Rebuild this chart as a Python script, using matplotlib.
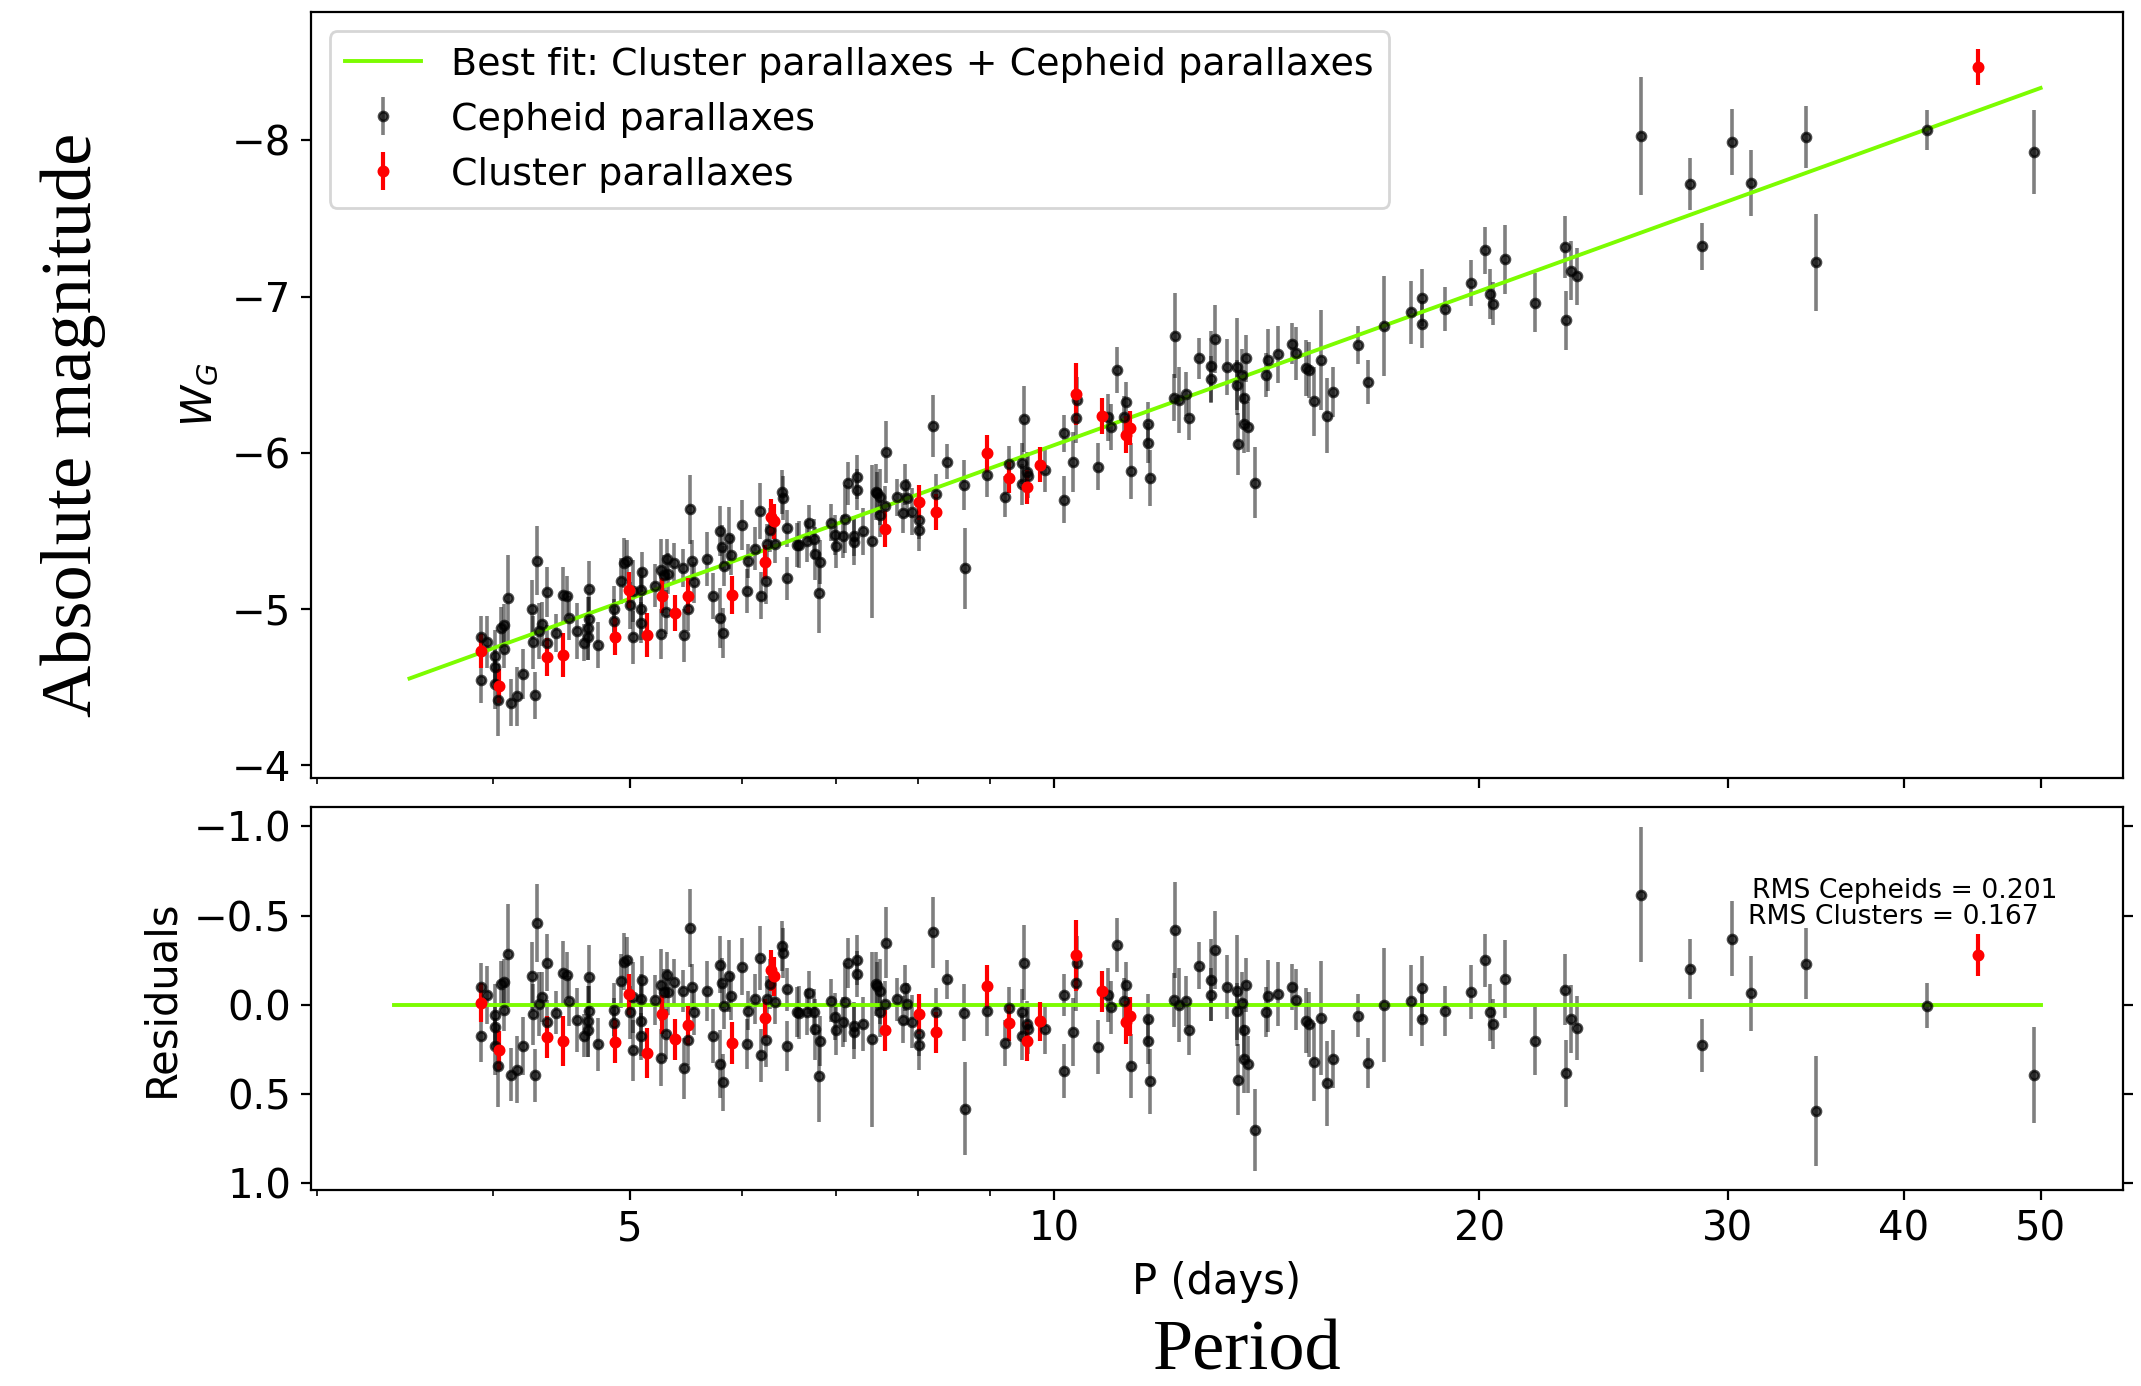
import matplotlib
matplotlib.use('Agg')
import matplotlib.pyplot as plt
import numpy as np
from matplotlib.ticker import FixedLocator, NullFormatter

# best fit PL relation (as drawn), W = zp + slope*(logP - 1)
fit_zp = -6.05
fit_slope = -3.27
fit_pmin_top, fit_pmin_res, fit_pmax = 3.49, 3.4, 50.0

# Cepheid parallaxes: period (d), residual from fit (mag), error (mag)
ceph_period = [3.92, 3.92, 3.96, 4.01, 4.01, 4.01, 4.03, 4.05, 4.07, 4.07,
               4.10, 4.12, 4.16, 4.20, 4.26, 4.27, 4.30, 4.28, 4.31, 4.33,
               4.37, 4.37, 4.43, 4.48, 4.51, 4.53, 4.59, 4.64, 4.67, 4.67,
               4.68, 4.68, 4.75, 4.87, 4.87, 4.93, 4.95, 4.98, 5.00, 5.03,
               5.03, 5.09, 5.09, 5.10, 5.09,
               5.21, 5.26, 5.26, 5.29, 5.30, 5.31, 5.32, 5.37, 5.45, 5.46,
               5.50, 5.52, 5.53, 5.55, 5.67, 5.73, 5.79, 5.79, 5.81, 5.82,
               5.83, 5.88, 5.90, 6.00, 6.05, 6.06, 6.13, 6.18, 6.19, 6.24,
               6.25, 6.29, 6.34, 6.41, 6.42, 6.46, 6.46, 6.57, 6.59, 6.68,
               6.70, 6.75, 6.76, 6.81, 6.82,
               6.94, 6.99, 7.00, 7.08, 7.10, 7.14, 7.21, 7.21, 7.25, 7.25,
               7.31, 7.43, 7.47, 7.48, 7.52, 7.52, 7.58, 7.59, 7.73, 7.81,
               7.83, 7.86, 7.92, 8.02, 8.02, 8.20, 8.24, 8.39, 8.62, 8.64,
               8.95, 9.22,
               9.29, 9.49, 9.49, 9.51, 9.56, 9.58, 9.84, 10.15, 10.16, 10.31,
               10.36, 10.37, 10.73, 10.91, 10.96, 11.07, 11.23, 11.21, 11.33, 11.65,
               11.64, 11.68, 12.15, 12.18, 12.25, 12.40, 12.46, 12.67, 12.90, 12.92,
               13.00, 13.25, 13.47, 13.47, 13.49, 13.58, 13.62, 13.63, 13.67, 13.71,
               13.88,
               14.13, 14.17, 14.41, 14.74, 14.82, 15.08, 15.15, 15.27, 15.45, 15.59,
               15.75, 16.41, 16.68, 17.12, 17.90, 18.23, 18.22, 18.93, 19.74, 20.18,
               20.37, 20.44, 20.87, 21.90, 22.99, 23.03, 23.23, 23.46,
               26.05, 28.21, 28.77, 30.22, 31.16, 34.12, 34.64, 41.56, 49.47]
ceph_resid = [-0.100, 0.176, -0.054, 0.056, 0.126, 0.234, 0.342, -0.115, -0.126, 0.030,
              -0.284, 0.392, 0.364, 0.232, -0.160, 0.054, -0.457, 0.397, -0.004, -0.041,
              -0.236, 0.095, 0.046, -0.178, -0.165, -0.019, 0.085, 0.175, 0.093, 0.145,
              -0.156, 0.037, 0.223, 0.028, 0.104, -0.134, -0.241, -0.249, 0.043, -0.041,
              0.256, -0.032, 0.089, -0.141, 0.178,
              -0.026, 0.297, -0.111, -0.069, 0.167, -0.167, -0.072, -0.128, -0.076, 0.358,
              0.201, -0.431, -0.100, 0.043, -0.076, 0.176, -0.223, 0.331, -0.119, 0.436,
              0.009, -0.160, -0.046, -0.212, 0.219, 0.033, -0.032, -0.260, 0.284, 0.201,
              -0.032, -0.115, -0.013, -0.329, -0.290, -0.087, 0.234, 0.043, 0.045, 0.043,
              -0.067, 0.043, 0.139, 0.401, 0.204,
              -0.022, 0.067, 0.141, 0.095, -0.013, -0.232, 0.117, 0.154, -0.251, -0.171,
              0.108, 0.195, -0.115, -0.102, -0.074, 0.043, -0.004, -0.347, -0.030, 0.084,
              -0.093, -0.004, 0.095, 0.167, 0.228, -0.405, 0.039, -0.143, 0.045, 0.583,
              0.035, 0.215,
              0.020, 0.043, 0.178, -0.236, 0.111, 0.139, 0.139, -0.054, 0.373, 0.152,
              -0.124, -0.234, 0.238, -0.054, 0.015, -0.336, -0.110, -0.019, 0.344, 0.082,
              0.202, 0.431, -0.026, -0.420, 0.002, -0.019, 0.141, -0.219, -0.141, -0.056,
              -0.306, -0.100, -0.078, 0.037, 0.420, -0.011, 0.141, 0.303, -0.111, 0.334,
              0.706,
              0.043, -0.048, -0.061, -0.098, -0.028, 0.089, 0.111, 0.321, 0.076, 0.442,
              0.305, 0.063, 0.325, 0.004, -0.022, -0.091, 0.080, 0.035, -0.071, -0.249,
              0.043, 0.110, -0.143, 0.202, -0.085, 0.386, 0.080, 0.132,
              -0.618, -0.199, 0.228, -0.371, -0.063, -0.230, 0.596, 0.006, 0.396]
ceph_err = [0.134, 0.143, 0.165, 0.17, 0.13, 0.16, 0.23, 0.13, 0.13, 0.12,
            0.28, 0.15, 0.19, 0.16, 0.19, 0.17, 0.22, 0.15, 0.18, 0.14,
            0.16, 0.12, 0.12, 0.18, 0.13, 0.14, 0.18, 0.12, 0.20, 0.15,
            0.18, 0.14, 0.15, 0.15, 0.14, 0.15, 0.16, 0.13, 0.15, 0.20,
            0.17, 0.14, 0.20, 0.13, 0.13,
            0.14, 0.16, 0.20, 0.13, 0.14, 0.13, 0.13, 0.13, 0.12, 0.17,
            0.14, 0.22, 0.13, 0.13, 0.17, 0.15, 0.16, 0.19, 0.14, 0.16,
            0.13, 0.20, 0.13, 0.16, 0.14, 0.11, 0.14, 0.18, 0.15, 0.15,
            0.13, 0.14, 0.12, 0.14, 0.14, 0.12, 0.14, 0.14, 0.15, 0.13,
            0.12, 0.13, 0.17, 0.26, 0.14,
            0.12, 0.13, 0.14, 0.14, 0.22, 0.14, 0.13, 0.15, 0.14, 0.13,
            0.15, 0.49, 0.18, 0.14, 0.18, 0.14, 0.13, 0.20, 0.12, 0.13,
            0.13, 0.12, 0.15, 0.12, 0.14, 0.20, 0.13, 0.11, 0.16, 0.26,
            0.14, 0.13,
            0.12, 0.13, 0.13, 0.21, 0.13, 0.14, 0.14, 0.12, 0.15, 0.19,
            0.16, 0.15, 0.15, 0.15, 0.15, 0.15, 0.13, 0.13, 0.18, 0.14,
            0.13, 0.18, 0.15, 0.27, 0.21, 0.14, 0.14, 0.13, 0.23, 0.15,
            0.22, 0.18, 0.31, 0.16, 0.20, 0.17, 0.17, 0.19, 0.15, 0.16,
            0.23,
            0.14, 0.20, 0.18, 0.13, 0.17, 0.18, 0.18, 0.22, 0.32, 0.24,
            0.16, 0.12, 0.14, 0.32, 0.20, 0.18, 0.15, 0.14, 0.15, 0.15,
            0.16, 0.14, 0.22, 0.19, 0.20, 0.19, 0.19, 0.18,
            0.38, 0.167, 0.15, 0.21, 0.21, 0.20, 0.31, 0.127, 0.27]

# Cluster parallaxes
clus_period = [3.92, 4.04, 4.37, 4.48, 4.88, 4.99, 5.14, 5.27, 5.38, 5.50,
               5.91, 6.23, 6.30, 6.33, 7.58, 8.01, 8.24, 8.95, 9.29, 9.56,
               9.77, 10.36, 10.81, 11.23, 11.31, 45.12]
clus_resid = [-0.011, 0.256, 0.182, 0.204, 0.208, -0.059, 0.271, 0.054, 0.195, 0.115,
              0.215, 0.076, -0.193, -0.160, 0.145, 0.052, 0.154, -0.104, 0.104, 0.206,
              0.093, -0.277, -0.076, 0.098, 0.065, -0.279]
clus_err = [0.11, 0.11, 0.12, 0.14, 0.12, 0.115, 0.14, 0.11, 0.113, 0.11,
            0.12, 0.11, 0.115, 0.11, 0.115, 0.11, 0.115, 0.117, 0.10, 0.11,
            0.11, 0.20, 0.115, 0.12, 0.11, 0.116]

rms_ceph = 0.201
rms_clus = 0.167


def pl_fit(p):
    return fit_zp + fit_slope * (np.log10(p) - 1)


ceph_period = np.array(ceph_period)
clus_period = np.array(clus_period)
ceph_w = pl_fit(ceph_period) + np.array(ceph_resid)
clus_w = pl_fit(clus_period) + np.array(clus_resid)
p_top = np.array([fit_pmin_top, fit_pmax])
p_res = np.array([fit_pmin_res, fit_pmax])

grey_dot = (0, 0, 0, 0.7)
grey_bar = (0, 0, 0, 0.5)
green = '#7CFC00'

fig = plt.figure(figsize=(10.705, 6.93), dpi=200)
ax1 = fig.add_axes([0.1451, 0.4389, 0.8465, 0.5522])
ax2 = fig.add_axes([0.1451, 0.1414, 0.8465, 0.2761], sharex=ax1)

# top panel: PL relation
ax1.errorbar(ceph_period, ceph_w, yerr=ceph_err, fmt='o', ms=3.2, mfc=grey_dot, mec=grey_dot,
             ecolor=grey_bar, elinewidth=1.3, capsize=0, label='Cepheid parallaxes')
ax1.plot(p_top, pl_fit(p_top), color=green, lw=1.4,
         label='Best fit: Cluster parallaxes + Cepheid parallaxes')
ax1.errorbar(clus_period, clus_w, yerr=clus_err, fmt='o', ms=3.3, color='red',
             elinewidth=1.5, capsize=0, label='Cluster parallaxes')
ax1.set_ylim(-3.92, -8.82)
ax1.set_ylabel('$W_G$', fontsize=15)
ax1.legend(loc='upper left', fontsize=13.7)
ax1.tick_params(labelbottom=False, labelsize=14.5)

# bottom panel: residuals
ax2.errorbar(ceph_period, ceph_resid, yerr=ceph_err, fmt='o', ms=3.2, mfc=grey_dot, mec=grey_dot,
             ecolor=grey_bar, elinewidth=1.3, capsize=0)
ax2.plot(p_res, [0, 0], color=green, lw=1.4)
ax2.errorbar(clus_period, clus_resid, yerr=clus_err, fmt='o', ms=3.3, color='red',
             elinewidth=1.5, capsize=0)
ax2.text(31.2, -0.598, 'RMS Cepheids = %.3f' % rms_ceph, fontsize=9.6, va='baseline')
ax2.text(31.0, -0.450, 'RMS Clusters = %.3f' % rms_clus, fontsize=9.6, va='baseline')
ax2.set_ylim(1.04, -1.107)
ax2.set_yticks([-1.0, -0.5, 0.0, 0.5, 1.0])
ax2.yaxis.set_ticks_position('both')
ax2.set_ylabel('Residuals', fontsize=15)
ax2.set_xlabel('P (days)', fontsize=15)
ax2.tick_params(labelsize=14.5)

ax2.set_xscale('log')
ax2.set_xlim(2.97, 57.2)
ax2.set_xticks([5, 10, 20, 30, 40, 50])
ax2.set_xticklabels(['5', '10', '20', '30', '40', '50'])
ax2.xaxis.set_minor_locator(FixedLocator([3, 4, 6, 7, 8, 9]))
ax2.xaxis.set_minor_formatter(NullFormatter())

fig.text(0.034, 0.6934, 'Absolute magnitude', rotation=90, ha='center', va='center',
         fontsize=26, family='Liberation Serif')
fig.text(0.5825, 0.001, 'Period', ha='center', va='bottom',
         fontsize=26, family='Liberation Serif')

fig.savefig('out.png', dpi=200)
